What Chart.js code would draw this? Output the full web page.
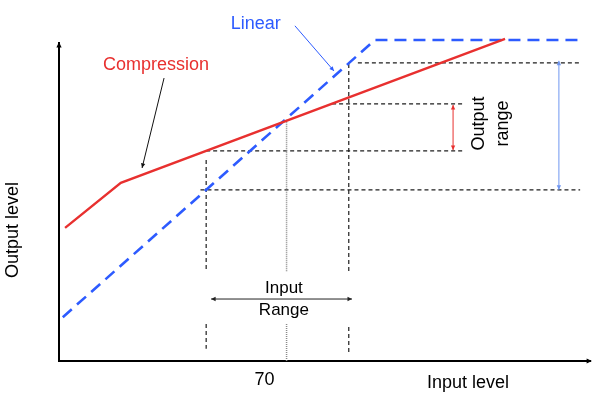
<!DOCTYPE html>
<html>
<head>
<meta charset="utf-8">
<script src="https://cdn.jsdelivr.net/npm/chart.js@4.4.1/dist/chart.umd.min.js"></script>
<style>
  html, body { margin: 0; padding: 0; background: #fff; }
  #wrap { width: 616px; height: 400px; }
</style>
</head>
<body>
<div id="wrap"><canvas id="myChart"></canvas></div>
<script>
// levels in dB: input on x, output on y
const compressionIn = [11.6, 26.3, 127.6];
const compressionOut = [37.5, 50.9, 93.6];
const linearIn = [11, 93.3, 147.9];
const linearOut = [11, 93.3, 93.3];
const inputRange = [48.8, 86.4];
const linearRange = [48.8, 86.5];
const compressionRange = [60.4, 74.3];
const xTicks = [70];

const RED = '#e8302f';
const BLUE = '#2d5bff';
const FONT = '"Liberation Sans", Arial, sans-serif';

const pts = (xs, ys) => xs.map((x, i) => ({x: x, y: ys[i]}));

// a guide line made of pieces, null breaks the line
const guide = (pieces, color, dash, width) => {
    let data = [];
    pieces.forEach((p, i) => {
        if (i > 0) data.push({x: p[0][0], y: null});
        p.forEach(q => data.push({x: q[0], y: q[1]}));
    });
    return {
        data: data,
        borderColor: color,
        borderWidth: width || 1.2,
        borderDash: dash,
        pointRadius: 0,
        spanGaps: false,
        clip: false
    };
};

const lo = inputRange[0], hi = inputRange[1];
const DARK = '#1e1e1e';
const guides = [
    guide([[[lo, 57.7], [lo, 24.4]], [[lo, 9], [lo, 1.6]]], DARK, [4, 3]),
    guide([[[hi, 86.2], [hi, 24.4]], [[hi, 8.1], [hi, 0.4]]], DARK, [4, 3]),
    guide([[[xTicks[0], 69.6], [xTicks[0], 24.4]], [[xTicks[0], 9], [xTicks[0], -2]]], '#8a8a8a', [1, 1], 1.5),
    guide([[[lo, compressionRange[0]], [117, compressionRange[0]]]], DARK, [4, 3]),
    guide([[[82, compressionRange[1]], [117, compressionRange[1]]]], DARK, [4, 3]),
    guide([[[88.8, linearRange[1]], [147.4, linearRange[1]]]], DARK, [4, 3]),
    guide([[[lo - 1.5, linearRange[0]], [147.4, linearRange[0]]]], DARK, [4, 3])
];

function head(ctx, x1, y1, x2, y2, size) {
    const a = Math.atan2(y2 - y1, x2 - x1);
    ctx.beginPath();
    ctx.moveTo(x2, y2);
    ctx.lineTo(x2 - size * Math.cos(a - 0.45), y2 - size * Math.sin(a - 0.45));
    ctx.lineTo(x2 - size * Math.cos(a + 0.45), y2 - size * Math.sin(a + 0.45));
    ctx.closePath();
    ctx.fill();
}

function arrow(ctx, x1, y1, x2, y2, color, both) {
    ctx.strokeStyle = color;
    ctx.fillStyle = color;
    ctx.lineWidth = 1;
    ctx.setLineDash([]);
    ctx.beginPath();
    ctx.moveTo(x1, y1);
    ctx.lineTo(x2, y2);
    ctx.stroke();
    head(ctx, x1, y1, x2, y2, 5);
    if (both) head(ctx, x2, y2, x1, y1, 5);
}

const notes = {
    id: 'notes',
    afterDraw(chart) {
        const ctx = chart.ctx;
        const X = chart.scales.x, Y = chart.scales.y;
        const px = v => X.getPixelForValue(v), py = v => Y.getPixelForValue(v);
        const area = chart.chartArea;
        ctx.save();

        // axis arrow heads
        ctx.fillStyle = '#000';
        head(ctx, area.left, area.top + 10, area.left, area.top - 1, 6);
        head(ctx, area.right - 10, area.bottom, area.right + 2, area.bottom, 6);

        // pointers to the curves
        arrow(ctx, px(37.7), py(82.0), px(31.9), py(55.3), '#111', false);
        arrow(ctx, px(72.2), py(97.5), px(82.5), py(84.1), BLUE, false);

        // ranges
        arrow(ctx, px(50.1), py(16.4), px(87.25), py(16.4), '#222', true);
        arrow(ctx, px(113.9), py(compressionRange[1] - 0.3), px(113.9), py(compressionRange[0] + 0.2), RED, true);
        arrow(ctx, px(141.8), py(linearRange[1] + 0.6), px(141.8), py(linearRange[0]), '#6f96f0', true);

        ctx.textAlign = 'center';
        ctx.textBaseline = 'middle';
        ctx.font = '18px ' + FONT;
        ctx.fillStyle = RED;
        ctx.fillText('Compression', px(35.6), py(85.9));
        ctx.fillStyle = BLUE;
        ctx.fillText('Linear', px(61.9), py(98.1));

        ctx.fillStyle = '#000';
        ctx.font = '17px ' + FONT;
        ctx.fillText('Input', px(69.3), py(19.7));
        ctx.fillText('Range', px(69.3), py(13.1));

        ctx.font = '18px ' + FONT;
        ctx.fillText('Input level', area.right - 122, area.bottom + 22);

        ctx.save();
        ctx.translate(13, area.top + 187);
        ctx.rotate(-Math.PI / 2);
        ctx.fillText('Output level', 0, 0);
        ctx.restore();

        ctx.save();
        ctx.translate(px(120.7), py(68.5));
        ctx.rotate(-Math.PI / 2);
        ctx.fillText('Output', 0, 0);
        ctx.fillText('range', 0, 24);
        ctx.restore();

        ctx.restore();
    }
};

const ctx = document.getElementById('myChart').getContext('2d');
const myChart = new Chart(ctx, {
    type: 'line',
    data: {
        datasets: [
            {
                label: 'Compression',
                data: pts(compressionIn, compressionOut),
                borderColor: RED,
                borderWidth: 2.4,
                pointRadius: 0,
                clip: false
            },
            {
                label: 'Linear',
                data: pts(linearIn, linearOut),
                borderColor: BLUE,
                borderWidth: 2.6,
                borderDash: [12, 7],
                pointRadius: 0,
                clip: false
            }
        ].concat(guides)
    },
    options: {
        responsive: true,
        maintainAspectRatio: false,
        animation: false,
        events: [],
        layout: {padding: {left: 0, right: 26, top: 43, bottom: 0}},
        plugins: {legend: {display: false}, tooltip: {enabled: false}},
        scales: {
            x: {
                type: 'linear',
                min: 10,
                max: 150,
                grid: {display: false, drawTicks: false},
                border: {display: true, color: '#000', width: 2},
                afterBuildTicks: axis => { axis.ticks = xTicks.map(v => ({value: v})); },
                afterFit: axis => { axis.height = 39; },
                ticks: {
                    color: '#000',
                    font: {size: 18, family: FONT},
                    padding: 8,
                    labelOffset: -22,
                    maxRotation: 0,
                    callback: v => String(v)
                }
            },
            y: {
                type: 'linear',
                min: -2,
                max: 92.4,
                grid: {display: false, drawTicks: false},
                border: {display: true, color: '#000', width: 2},
                ticks: {display: false},
                afterFit: axis => { axis.width = 59; }
            }
        }
    },
    plugins: [notes]
});
</script>
</body>
</html>
